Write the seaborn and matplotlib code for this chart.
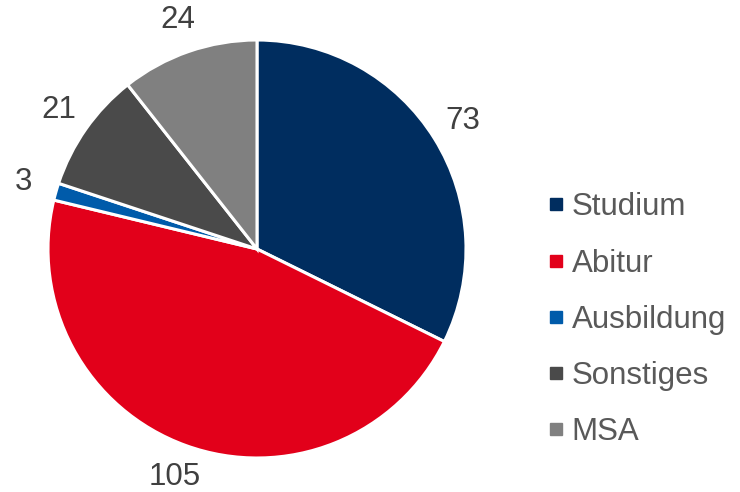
import matplotlib
matplotlib.use("Agg")
import matplotlib.pyplot as plt
from matplotlib.lines import Line2D
import seaborn as sns

categories = ["Studium", "Abitur", "Ausbildung", "Sonstiges", "MSA"]
values = [73, 105, 3, 21, 24]
colors = ["#002D5F", "#E2001A", "#005BAA", "#4A4A4A", "#808080"]


def create_plot():
    sns.set_theme(style="white")
    plt.rcParams["font.family"] = ["Liberation Sans", "DejaVu Sans"]
    palette = sns.color_palette(colors)

    fig = plt.figure(figsize=(7.4, 4.92), dpi=100)
    ax = fig.add_axes([0, 0, 1, 1])

    wedges, texts = ax.pie(values, labels=[str(v) for v in values], colors=palette,
                           startangle=90, counterclock=False, radius=1,
                           labeldistance=1.16,
                           wedgeprops=dict(edgecolor="white", linewidth=2.2),
                           textprops=dict(fontsize=22.5, color="#404040"))
    for t in texts:
        t.set_horizontalalignment("center")
        t.set_verticalalignment("center")

    # place the pie: centre at (257, 249) px from top-left, radius 209 px
    r = 209.0
    ax.set_aspect("auto")
    ax.set_xlim(-257 / r, (740 - 257) / r)
    ax.set_ylim(-243 / r, 249 / r)
    ax.axis("off")

    handles = [Line2D([0], [0], marker="s", linestyle="", markersize=8,
                      markerfacecolor=c, markeredgecolor=c) for c in palette]
    fig.legend(handles, categories, loc="center left", bbox_to_anchor=(531 / 740, 0.35),
               frameon=False, fontsize=22.5, labelcolor="#595959",
               handlelength=0.6, handletextpad=0.2, labelspacing=0.84, borderpad=0)

    fig.savefig("out.png", dpi=100)
    plt.close(fig)


if __name__ == "__main__":
    create_plot()
